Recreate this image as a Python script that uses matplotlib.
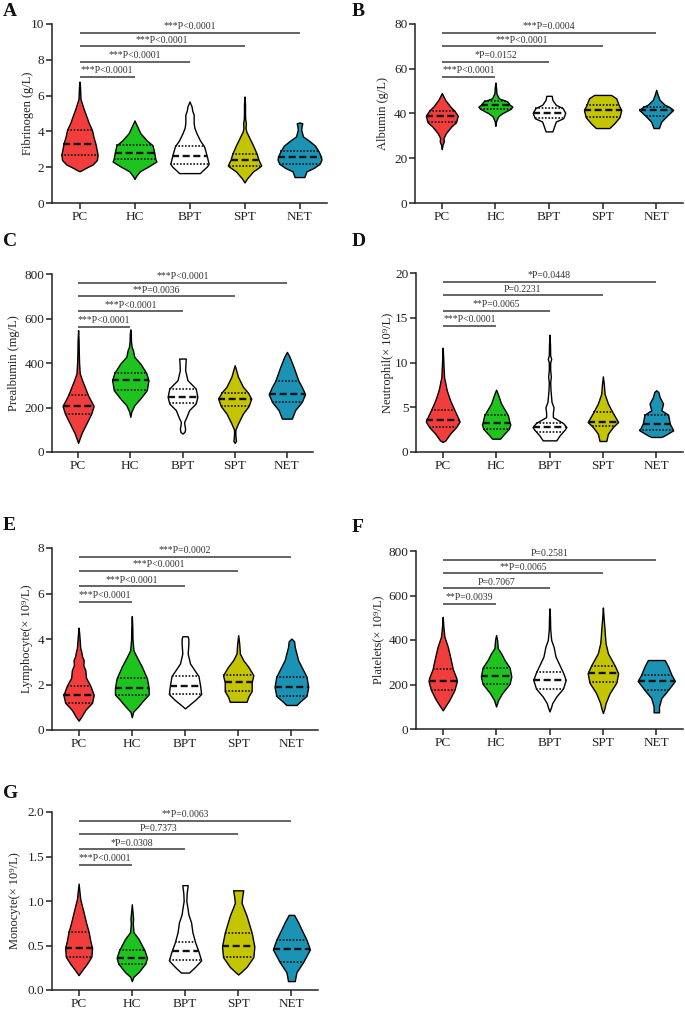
import numpy as np
import matplotlib
matplotlib.use("Agg")
import matplotlib.pyplot as plt
from matplotlib import transforms
from matplotlib.ticker import FormatStrFormatter

plt.rcParams['font.family'] = ['Liberation Serif', 'DejaVu Serif']

groups = ["PC", "HC", "BPT", "SPT", "NET"]
colors = ["#F23D3D", "#1EC41E", "#FFFFFF", "#C4C400", "#1A93B5"]

# ---- Panel A: Fibrinogen ----
A_y = [[1.77, 1.85, 2.0, 2.15, 2.4, 2.7, 3.0, 3.3, 3.7, 4.07, 4.5, 4.83, 5.2, 5.5, 5.8, 6.2, 6.5, 6.78],
       [1.34, 1.49, 1.77, 2.04, 2.32, 2.45, 2.79, 3.22, 3.5, 3.9, 4.27, 4.61],
       [1.67, 1.67, 1.77, 2.04, 2.19, 2.6, 3.16, 3.5, 3.9, 4.2, 4.46, 4.7, 4.93, 5.15, 5.39, 5.67],
       [1.15, 1.39, 1.77, 2.04, 2.1, 2.42, 2.75, 3.2, 3.72, 4.0, 4.2, 4.46, 4.7, 5.0, 5.5, 5.95],
       [1.45, 1.45, 1.67, 1.77, 1.95, 2.19, 2.42, 2.57, 2.88, 3.2, 3.44, 3.72, 4.09, 4.3, 4.45, 4.5]]
A_d = [[0, 8, 22, 38, 50, 52, 49, 46, 40, 36, 26, 20, 13, 8, 3, 2, 1.5, 0],
       [0, 4, 15, 40, 63, 60, 57, 52, 35, 17, 8, 0],
       [0, 30, 35, 50, 55, 50, 42, 30, 20, 14, 12, 12, 12, 8, 6, 0],
       [0, 8, 25, 45, 48, 40, 35, 25, 12, 5, 3, 4, 2, 1.5, 1.5, 0],
       [0, 14, 18, 20, 40, 58, 63, 62, 55, 45, 30, 10, 5, 6, 8, 0]]
A_q = [(2.7, 3.3, 4.07), (2.45, 2.79, 3.22), (2.19, 2.6, 3.16), (2.04, 2.42, 2.75), (2.19, 2.57, 2.88)]
A_p = ["***P<0.0001", "***P<0.0001", "***P<0.0001", "***P<0.0001"]

# ---- Panel B: Albumin ----
B_y = [[24.1, 26, 27.5, 29, 31.2, 34.2, 36.1, 39.0, 41.3, 43.1, 46.1, 49.1],
       [34.5, 36.5, 38.7, 40.1, 42.1, 43.1, 43.9, 45.4, 46.8, 49, 51.5, 53.8],
       [32, 32, 34.2, 36.4, 37.9, 40.3, 42.4, 43.9, 46.1, 47.9, 47.9],
       [33.5, 33.5, 35.7, 38.4, 41.6, 43.6, 46.8, 48.3, 48.3],
       [33.5, 33.5, 36.4, 38.7, 41.6, 43.0, 43.9, 46.1, 48.5, 50.6]]
B_d = [[0, 2, 6, 5, 12, 28, 42, 47, 37, 25, 10, 0],
       [0, 2, 8, 20, 45, 50, 42, 35, 10, 3, 2, 0],
       [0, 10, 15, 20, 42, 48, 40, 20, 10, 8, 0],
       [0, 20, 35, 50, 55, 48, 40, 25, 0],
       [0, 8, 15, 30, 50, 38, 25, 10, 4, 0]]
B_q = [(36.1, 39.0, 41.3), (42.1, 43.9, 45.4), (37.9, 40.3, 42.4), (38.4, 41.6, 43.6), (38.7, 41.6, 43.0)]
B_p = ["***P<0.0001", "*P=0.0152", "***P<0.0001", "***P=0.0004"]

# ---- Panel C: Prealbumin ----
C_y = [[41, 83, 128, 173, 207, 255, 293, 323, 353, 400, 450, 500, 548],
       [158, 180, 210, 240, 278, 323, 356, 398, 428, 458, 473, 500, 530, 551],
       [83, 90, 105, 120, 135, 158, 188, 218, 248, 285, 323, 368, 400, 420, 420],
       [41, 50, 60, 80, 100, 128, 173, 206, 240, 267, 293, 338, 370, 390],
       [150, 150, 188, 225, 260, 293, 320, 383, 428, 450]]
C_d = [[0, 10, 25, 40, 47, 30, 20, 12, 5, 3, 2, 1.5, 0],
       [0, 3, 12, 30, 50, 55, 48, 30, 12, 8, 4, 2, 1.5, 0],
       [0, 6, 8, 6, 5, 12, 20, 40, 45, 40, 15, 8, 9, 10, 0],
       [0, 4, 3, 2, 2, 10, 25, 42, 50, 40, 25, 10, 4, 0],
       [0, 15, 25, 45, 55, 45, 35, 20, 8, 0]]
C_q = [(173, 207, 255), (278, 323, 356), (218, 248, 285), (206, 240, 267), (225, 260, 320)]
C_p = ["***P<0.0001", "***P<0.0001", "**P=0.0036", "***P<0.0001"]

# ---- Panel D: Neutrophil ----
D_y = [[1.12, 1.3, 2.05, 2.79, 3.4, 3.61, 4.66, 5.77, 6.9, 8.38, 10, 11.66],
       [1.49, 1.49, 1.86, 2.6, 3.1, 3.28, 4.1, 5.4, 6.5, 6.96],
       [1.3, 1.3, 1.86, 2.5, 2.79, 3.24, 3.9, 4.4, 5.0, 5.6, 6.9, 7.8, 8.4, 9.2, 10.0, 10.4, 10.8, 12, 13.1],
       [1.23, 1.23, 2.05, 2.8, 3.35, 4.47, 5.4, 6.5, 7.5, 8.45],
       [1.68, 1.68, 1.86, 2.42, 3.17, 4.17, 4.66, 5.4, 6.14, 6.7, 6.9]]
D_d = [[0, 8, 22, 40, 50, 48, 35, 22, 12, 4, 2, 0],
       [0, 12, 20, 38, 42, 40, 35, 15, 5, 0],
       [0, 20, 30, 45, 50, 40, 10, 10, 12, 6, 3, 2, 4, 2, 2, 5, 2, 1.5, 0],
       [0, 10, 15, 30, 45, 28, 15, 5, 3, 0],
       [0, 15, 25, 50, 40, 35, 15, 20, 10, 6, 0]]
D_q = [(2.79, 3.61, 4.66), (2.6, 3.28, 4.1), (2.23, 2.79, 3.25), (2.85, 3.35, 4.47), (2.42, 3.17, 4.17)]
D_p = ["***P<0.0001", "**P=0.0065", "P=0.2231", "*P=0.0448"]

# ---- Panel E: Lymphocyte ----
E_y = [[0.41, 0.58, 0.88, 1.2, 1.54, 1.94, 2.3, 2.63, 2.85, 3.07, 3.25, 3.44, 3.6, 3.8, 4.2, 4.5],
       [0.56, 0.8, 1.02, 1.32, 1.56, 1.86, 2.27, 2.78, 3.2, 3.5, 4.0, 4.5, 5.01],
       [0.95, 1.1, 1.32, 1.58, 1.94, 2.37, 2.92, 3.36, 3.8, 4.0, 4.12, 4.12],
       [1.24, 1.24, 1.46, 1.71, 2.09, 2.41, 2.78, 3.07, 3.36, 3.8, 4.17],
       [1.1, 1.1, 1.24, 1.5, 1.9, 2.34, 3.07, 3.65, 3.9, 4.02]]
E_d = [[0, 8, 20, 40, 45, 35, 22, 20, 14, 15, 10, 8, 5, 4, 2, 0],
       [0, 4, 18, 35, 50, 50, 45, 30, 15, 5, 2, 1.5, 0],
       [0, 12, 30, 48, 45, 40, 15, 8, 10, 10, 8, 0],
       [0, 25, 30, 40, 40, 45, 30, 15, 5, 3, 0],
       [0, 15, 25, 45, 50, 45, 20, 10, 8, 0]]
E_q = [(1.2, 1.54, 1.94), (1.56, 1.86, 2.27), (1.58, 1.94, 2.37), (1.71, 2.09, 2.41), (1.5, 1.9, 2.34)]
E_p = ["***P<0.0001", "***P<0.0001", "***P<0.0001", "***P=0.0002"]

# ---- Panel F: Platelets ----
F_y = [[84, 131, 176, 216, 230, 269, 325, 370, 415, 460, 504],
       [101, 130, 161, 203, 236, 276, 310, 340, 363, 400, 422],
       [79, 100, 116, 146, 182, 221, 254, 325, 370, 400, 450, 500, 542],
       [72, 90, 116, 161, 209, 251, 285, 340, 385, 420, 445, 500, 546],
       [75, 75, 101, 139, 176, 216, 243, 281, 310, 310]]
F_d = [[0, 20, 35, 42, 40, 30, 22, 15, 5, 2, 0],
       [0, 6, 18, 40, 45, 40, 25, 15, 5, 3, 0],
       [0, 5, 8, 20, 40, 48, 40, 18, 12, 5, 2, 1.5, 0],
       [0, 4, 8, 20, 40, 45, 35, 15, 8, 6, 5, 2, 0],
       [0, 8, 8, 15, 35, 55, 45, 35, 25, 0]]
F_q = [(176, 216, 269), (203, 236, 276), (182, 221, 254), (209, 251, 285), (176, 216, 243)]
F_p = ["**P=0.0039", "P=0.7067", "**P=0.0065", "P=0.2581"]

# ---- Panel G: Monocyte ----
G_y = [[0.167, 0.22, 0.296, 0.374, 0.474, 0.55, 0.65, 0.76, 0.87, 1.02, 1.196],
       [0.1, 0.15, 0.2, 0.296, 0.36, 0.444, 0.574, 0.65, 0.75, 0.8, 0.963],
       [0.196, 0.196, 0.26, 0.333, 0.433, 0.537, 0.65, 0.76, 0.85, 0.907, 1.0, 1.09, 1.178, 1.178],
       [0.174, 0.2, 0.26, 0.37, 0.489, 0.644, 0.833, 0.93, 0.98, 1.05, 1.12, 1.12],
       [0.1, 0.1, 0.2, 0.315, 0.456, 0.563, 0.68, 0.76, 0.844, 0.844]]
G_d = [[0, 10, 25, 38, 40, 35, 30, 22, 15, 5, 0],
       [0, 5, 20, 40, 45, 38, 20, 5, 3, 4, 0],
       [0, 12, 30, 48, 40, 30, 22, 18, 10, 8, 4, 5, 8, 0],
       [0, 8, 25, 45, 48, 40, 25, 15, 10, 12, 15, 0],
       [0, 10, 15, 35, 55, 45, 30, 20, 8, 0]]
G_q = [(0.374, 0.474, 0.65), (0.296, 0.36, 0.444), (0.333, 0.433, 0.537), (0.37, 0.489, 0.644), (0.315, 0.456, 0.563)]
G_p = ["***P<0.0001", "*P=0.0308", "P=0.7373", "**P=0.0063"]

# ---------------- layout ----------------
W, H = 685, 1011
fig = plt.figure(figsize=(W / 100, H / 100), dpi=100)

panels = [
    ("A", "Fibrinogen (g/L)", 10, 2, A_y, A_d, A_q, A_p, (52, 327, 24, 203), (3, 11), 28),
    ("B", "Albumin (g/L)", 80, 20, B_y, B_d, B_q, B_p, (415, 683, 24, 203), (352, 11), 383),
    ("C", "Prealbumin (mg/L)", 800, 200, C_y, C_d, C_q, C_p, (52, 313, 274, 452), (3, 241), 14),
    ("D", "Neutrophil(× 10⁹/L)", 20, 5, D_y, D_d, D_q, D_p, (416, 683, 273, 452), (352, 241), 388),
    ("E", "Lymphocyte(× 10⁹/L)", 8, 2, E_y, E_d, E_q, E_p, (52, 318, 548, 730), (3, 526), 27),
    ("F", "Platelets(× 10⁹/L)", 800, 200, F_y, F_d, F_q, F_p, (416, 683, 551, 729), (352, 527), 378),
    ("G", "Monocyte(× 10⁹/L)", 2.0, 0.5, G_y, G_d, G_q, G_p, (52, 318, 812, 990), (3, 793), 15),
]

DSCALE = 1.0 / 158.0  # density units -> x units
LEVELS = [0.705, 0.79, 0.875, 0.95]
positions = np.arange(len(groups))

for (lab, ylab, ymax, ystep, ys, ds, qs, ps, box, lpos, ylx) in panels:
    l, r, t, b = box
    ax = fig.add_axes([l / W, 1 - b / H, (r - l) / W, (b - t) / H])
    stats = []
    widths = []
    for yv, dv, q in zip(ys, ds, qs):
        yv = np.asarray(yv, float)
        dv = np.asarray(dv, float)
        stats.append(dict(coords=yv, vals=dv, mean=q[1], median=q[1],
                          min=yv.min(), max=yv.max(), quantiles=[]))
        widths.append(2 * dv.max() * DSCALE)
    parts = ax.violin(stats, positions=positions, widths=widths,
                      showmeans=False, showextrema=False, showmedians=False)
    for body, c in zip(parts['bodies'], colors):
        body.set_facecolor(c)
        body.set_edgecolor('black')
        body.set_linewidth(1.0)
        body.set_alpha(1)
        body.set_zorder(2)
    for pos, yv, dv, q in zip(positions, ys, ds, qs):
        yv = np.asarray(yv, float)
        dv = np.asarray(dv, float)
        for k, qq in enumerate(q):
            hw = np.interp(qq, yv, dv) * DSCALE
            if k == 1:
                ax.plot([pos - hw, pos + hw], [qq, qq], color='#111111', lw=1.7,
                        ls=(0, (3, 1.5)), zorder=3, solid_capstyle='butt')
            else:
                ax.plot([pos - hw, pos + hw], [qq, qq], color='#111111', lw=1.2,
                        ls=(0, (1, 1)), zorder=3)
    for j, (lev, txt) in enumerate(zip(LEVELS, ps)):
        yy = lev * ymax
        ax.plot([positions[0], positions[j + 1]], [yy, yy], color='#3a3a3a', lw=1.1,
                solid_capstyle='butt', clip_on=False, zorder=1)
        tr = transforms.offset_copy(ax.transData, fig=fig, x=0, y=1.2, units='points')
        ax.text((positions[0] + positions[j + 1]) / 2, yy, txt, ha='center', va='bottom',
                fontsize=7, color='#333333', transform=tr)
    ax.set_xlim(-0.5, 4.5)
    ax.set_ylim(0, ymax)
    ax.set_yticks(np.arange(0, ymax + ystep / 2, ystep))
    if ystep < 1:
        ax.yaxis.set_major_formatter(FormatStrFormatter('%.1f'))
    ax.set_xticks(positions)
    ax.set_xticklabels(groups)
    for s in ['top', 'right']:
        ax.spines[s].set_visible(False)
    for s in ['left', 'bottom']:
        ax.spines[s].set_linewidth(1.1)
        ax.spines[s].set_color('#222222')
    ax.tick_params(axis='both', direction='out', length=4, width=1.1, colors='#222222',
                   labelsize=9.5, labelcolor='#222222', pad=1.5)
    ax.set_ylabel(ylab, fontsize=9, color='#222222', va='center')
    ax.yaxis.set_label_coords((ylx - l) / (r - l), 0.5)
    fig.text(lpos[0] / W, 1 - lpos[1] / H, lab, fontsize=14, fontweight='bold',
             ha='left', va='center', color='#111111')

fig.savefig("out.png", dpi=100)
